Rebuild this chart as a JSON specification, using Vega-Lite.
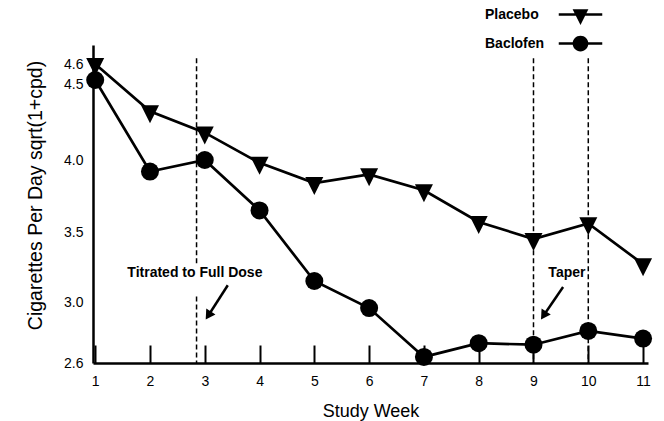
{
  "$schema": "https://vega.github.io/schema/vega-lite/v6.json",
  "width": 555,
  "height": 318,
  "autosize": {"type": "none"},
  "padding": {"left": 93, "top": 45, "right": 16, "bottom": 58},
  "background": "white",
  "config": {
    "view": {"stroke": null},
    "font": "Liberation Sans",
    "axis": {
      "grid": false,
      "domainColor": "black",
      "domainWidth": 2.5,
      "labelFont": "Liberation Sans",
      "labelFontSize": 14,
      "labelColor": "black",
      "titleFont": "Liberation Sans",
      "titleFontSize": 18,
      "titleFontWeight": "normal",
      "titleColor": "black",
      "labelOverlap": false
    }
  },
  "datasets": {
    "series": [
      {"week": 1, "group": "Placebo", "value": 4.60},
      {"week": 2, "group": "Placebo", "value": 4.32},
      {"week": 3, "group": "Placebo", "value": 4.18},
      {"week": 4, "group": "Placebo", "value": 3.98},
      {"week": 5, "group": "Placebo", "value": 3.84},
      {"week": 6, "group": "Placebo", "value": 3.90},
      {"week": 7, "group": "Placebo", "value": 3.79},
      {"week": 8, "group": "Placebo", "value": 3.57},
      {"week": 9, "group": "Placebo", "value": 3.45},
      {"week": 10, "group": "Placebo", "value": 3.56},
      {"week": 11, "group": "Placebo", "value": 3.27},
      {"week": 1, "group": "Baclofen", "value": 4.52},
      {"week": 2, "group": "Baclofen", "value": 3.92},
      {"week": 3, "group": "Baclofen", "value": 4.00},
      {"week": 4, "group": "Baclofen", "value": 3.65},
      {"week": 5, "group": "Baclofen", "value": 3.15},
      {"week": 6, "group": "Baclofen", "value": 2.96},
      {"week": 7, "group": "Baclofen", "value": 2.64},
      {"week": 8, "group": "Baclofen", "value": 2.73},
      {"week": 9, "group": "Baclofen", "value": 2.72},
      {"week": 10, "group": "Baclofen", "value": 2.81},
      {"week": 11, "group": "Baclofen", "value": 2.76}
    ],
    "guides": [
      {"week": 2.85, "value": 4.63, "value2": 3.27},
      {"week": 2.85, "value": 3.04, "value2": 2.6},
      {"week": 9, "value": 4.63, "value2": 2.6},
      {"week": 10, "value": 4.63, "value2": 2.6}
    ],
    "arrows": [
      {"week": 3.42, "value": 3.12, "week2": 3.08, "value2": 2.92},
      {"week": 9.54, "value": 3.107, "week2": 9.2, "value2": 2.92}
    ],
    "heads": [
      {"week": 3.08, "value": 2.92},
      {"week": 9.2, "value": 2.92}
    ],
    "notes": [
      {"week": 2.82, "value": 3.21, "label": "Titrated to Full Dose"},
      {"week": 9.61, "value": 3.21, "label": "Taper"}
    ]
  },
  "encoding": {
    "x": {
      "field": "week",
      "type": "quantitative",
      "scale": {"domain": [0.96, 11.09], "nice": false, "zero": false},
      "axis": {
        "title": "Study Week",
        "values": [1, 2, 3, 4, 5, 6, 7, 8, 9, 10, 11],
        "format": "d",
        "tickSize": -18,
        "tickWidth": 2,
        "tickColor": "black",
        "labelPadding": 29,
        "titlePadding": 14
      }
    },
    "y": {
      "field": "value",
      "type": "quantitative",
      "scale": {
        "domain": [2.6, 3.0, 3.5, 4.0, 4.5, 4.6, 4.7],
        "range": [318, 257, 187, 115, 39, 19, 0],
        "nice": false,
        "zero": false
      },
      "axis": {
        "title": "Cigarettes Per Day sqrt(1+cpd)",
        "titleFontSize": 19.5,
        "titleY": 150,
        "values": [2.6, 3.0, 3.5, 4.0, 4.5, 4.6],
        "format": ".1f",
        "ticks": false,
        "tickSize": 0,
        "labelPadding": 10,
        "titlePadding": 18
      }
    }
  },
  "resolve": {"scale": {"shape": "independent"}, "legend": {"shape": "independent"}},
  "layer": [
    {
      "data": {"name": "guides"},
      "mark": {"type": "rule", "color": "black", "strokeWidth": 1.5, "strokeDash": [5, 3]},
      "encoding": {"y2": {"field": "value2"}}
    },
    {
      "data": {"name": "series"},
      "mark": {"type": "line", "color": "black", "strokeWidth": 2.7},
      "encoding": {"detail": {"field": "group"}}
    },
    {
      "data": {"name": "series"},
      "mark": {"type": "point", "filled": true, "color": "black", "opacity": 1, "size": 324},
      "encoding": {
        "shape": {
          "field": "group",
          "type": "nominal",
          "scale": {
            "domain": ["Placebo", "Baclofen"],
            "range": ["M-1,-0.67L1,-0.67L0,1.33Z", "circle"]
          },
          "legend": null
        }
      }
    },
    {
      "data": {"name": "series"},
      "mark": {"type": "point", "filled": true, "color": "black", "opacity": 0, "size": 225},
      "encoding": {
        "shape": {
          "field": "group",
          "type": "nominal",
          "scale": {
            "domain": ["Placebo", "Baclofen"],
            "range": [
              "M-2.9,-0.18H-0.6V0.18H-2.9ZM0.6,-0.18H2.9V0.18H0.6ZM-1.05,-0.7L1.05,-0.7L0,1.4Z",
              "M-2.9,-0.18H-0.8V0.18H-2.9ZM0.8,-0.18H2.9V0.18H0.8ZM1.05,0A1.05,1.05,0,1,1,-1.05,0A1.05,1.05,0,1,1,1.05,0Z"
            ]
          },
          "legend": {
            "title": null,
            "orient": "none",
            "legendX": 480,
            "legendY": -38,
            "padding": 0,
            "symbolSize": 225,
            "rowPadding": 10,
            "labelAlign": "left",
            "labelOffset": -103,
            "labelFont": "Liberation Sans",
            "labelFontSize": 14,
            "labelFontWeight": "bold",
            "labelColor": "black",
            "symbolFillColor": "black",
            "symbolStrokeColor": "black",
            "symbolStrokeWidth": 0,
            "symbolOpacity": 1
          }
        }
      }
    },
    {
      "data": {"name": "arrows"},
      "mark": {"type": "rule", "color": "black", "strokeWidth": 2.5},
      "encoding": {"x2": {"field": "week2"}, "y2": {"field": "value2"}}
    },
    {
      "data": {"name": "heads"},
      "mark": {"type": "point", "shape": "triangle", "filled": true, "color": "black", "opacity": 1, "size": 120, "angle": 213}
    },
    {
      "data": {"name": "notes"},
      "mark": {"type": "text", "font": "Liberation Sans", "fontSize": 14, "fontWeight": "bold", "color": "black", "align": "center", "baseline": "middle"},
      "encoding": {"text": {"field": "label"}}
    }
  ]
}
